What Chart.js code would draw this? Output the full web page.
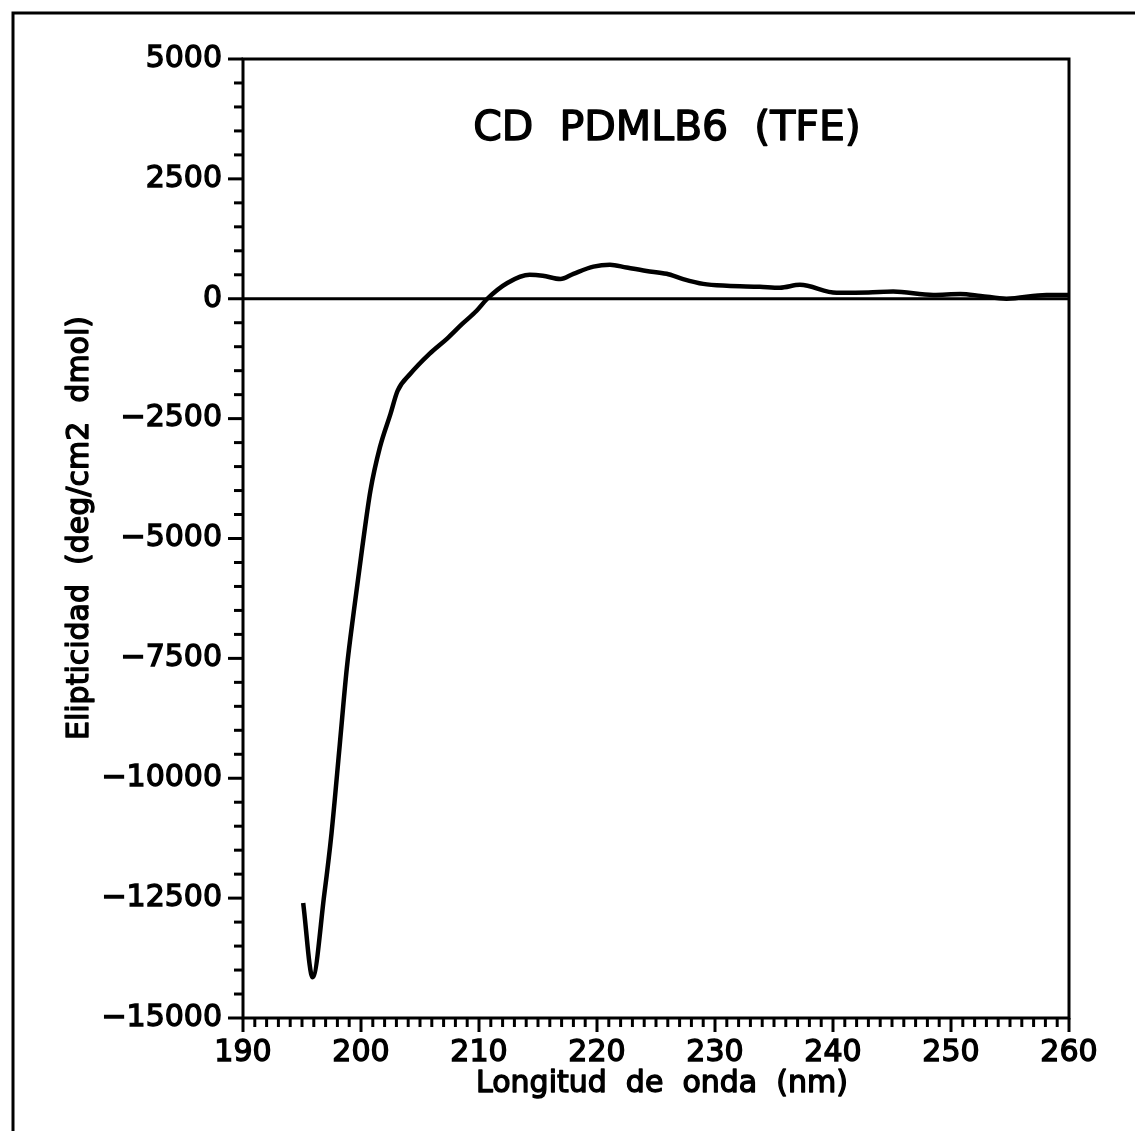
<!DOCTYPE html>
<html>
<head>
<meta charset="utf-8">
<script src="https://cdn.jsdelivr.net/npm/chart.js@4.4.0/dist/chart.umd.min.js"></script>
<style>
  html, body { margin: 0; padding: 0; background: #fff; }
  canvas { display: block; }
</style>
</head>
<body>
<canvas id="c" width="1135" height="1131"></canvas>
<script>
// ---- data ----
const wavelength = [195.1, 195.9, 196.9, 197.5, 198.2, 198.8, 199.4, 200.1, 200.8, 201.6, 202.5, 203.1, 204.2, 205.8, 207.3, 208.6, 209.8, 210.7, 212.4, 214.3, 215.4, 216.9, 218.0, 219.7, 221.1, 222.5, 224.2, 225.9, 227.3, 229.0, 231.0, 233.8, 235.5, 237.2, 240.3, 243.0, 245.1, 248.5, 250.8, 252.5, 254.7, 258.1, 260.0];
const ellipticity = [-12600, -14150, -12400, -11150, -9300, -7700, -6500, -5200, -4000, -3100, -2400, -1920, -1560, -1150, -830, -520, -250, 0, 330, 500, 480, 410, 520, 670, 710, 650, 580, 520, 410, 310, 270, 250, 230, 290, 125, 130, 150, 80, 100, 60, 0, 80, 80];
const zeroLineX = [190, 260];
const zeroLineY = [0, 0];
const xMajorTicks = [190, 200, 210, 220, 230, 240, 250, 260];
const yMajorTicks = [5000, 2500, 0, -2500, -5000, -7500, -10000, -12500, -15000];
const xMinorStep = 1;
const yMinorStep = 500;
const chartTitle = 'CD  PDMLB6  (TFE)';
const xTitle = 'Longitud  de  onda  (nm)';
const yTitle = 'Elipticidad  (deg/cm2  dmol)';

const FONT = '"DejaVu Sans", sans-serif';

function boldText(ctx, text, x, y) {
  ctx.fillText(text, x, y);
  ctx.strokeText(text, x, y);
}

const decorPlugin = {
  id: 'decor',
  beforeDraw(chart) {
    const ctx = chart.ctx;
    ctx.save();
    ctx.fillStyle = '#fff';
    ctx.fillRect(0, 0, chart.width, chart.height);
    // outer frame (top and left)
    ctx.strokeStyle = '#000';
    ctx.lineWidth = 3;
    ctx.beginPath();
    ctx.moveTo(13, chart.height);
    ctx.lineTo(13, 13);
    ctx.lineTo(chart.width, 13);
    ctx.stroke();
    ctx.restore();
  },
  afterDraw(chart) {
    const ctx = chart.ctx;
    const a = chart.chartArea;
    const xs = chart.scales.x, ys = chart.scales.y;
    ctx.save();
    ctx.strokeStyle = '#000';
    ctx.fillStyle = '#000';
    // plot box
    ctx.lineWidth = 3;
    ctx.strokeRect(a.left, a.top, a.right - a.left, a.bottom - a.top);
    // x ticks
    for (let v = xs.min; v <= xs.max + 1e-9; v += xMinorStep) {
      const px = xs.getPixelForValue(v);
      const major = xMajorTicks.includes(Math.round(v));
      ctx.beginPath();
      ctx.moveTo(px, a.bottom);
      ctx.lineTo(px, a.bottom + (major ? 14 : 9));
      ctx.stroke();
    }
    // y ticks
    for (let v = ys.min; v <= ys.max + 1e-9; v += yMinorStep) {
      const py = ys.getPixelForValue(v);
      const major = yMajorTicks.includes(Math.round(v));
      ctx.beginPath();
      ctx.moveTo(a.left, py);
      ctx.lineTo(a.left - (major ? 15 : 9), py);
      ctx.stroke();
    }
    ctx.lineWidth = 1.4;
    ctx.lineJoin = 'round';
    // chart title inside plot
    ctx.font = '41px ' + FONT;
    ctx.textAlign = 'center';
    ctx.textBaseline = 'alphabetic';
    boldText(ctx, chartTitle, 667, 140);
    // x title
    ctx.font = '30px ' + FONT;
    boldText(ctx, xTitle, 662, 1092);
    // y title
    ctx.translate(88, 528);
    ctx.rotate(-Math.PI / 2);
    boldText(ctx, yTitle, 0, 0);
    ctx.restore();
  }
};

new Chart(document.getElementById('c'), {
  type: 'line',
  data: {
    datasets: [
      {
        data: wavelength.map((x, i) => ({ x, y: ellipticity[i] })),
        borderColor: '#000',
        borderWidth: 4.5,
        pointRadius: 0,
        fill: false,
        cubicInterpolationMode: 'monotone'
      },
      {
        data: zeroLineX.map((x, i) => ({ x, y: zeroLineY[i] })),
        borderColor: '#000',
        borderWidth: 3,
        pointRadius: 0,
        fill: false
      }
    ]
  },
  options: {
    responsive: false,
    animation: false,
    devicePixelRatio: 1,
    layout: { padding: { top: 59, right: 66, left: 0, bottom: 0 } },
    plugins: { legend: { display: false }, tooltip: { enabled: false }, title: { display: false } },
    scales: {
      x: {
        type: 'linear',
        min: 190, max: 260,
        afterFit(s) { s.height = 113; },
        afterBuildTicks(s) { s.ticks = xMajorTicks.map(v => ({ value: v })); },
        ticks: {
          font: { family: FONT, size: 30 }, color: '#000', padding: 17, maxRotation: 0,
          textStrokeColor: '#000', textStrokeWidth: 1.4
        },
        grid: { display: false, drawTicks: false },
        border: { display: false }
      },
      y: {
        type: 'linear',
        min: -15000, max: 5000,
        afterFit(s) { s.width = 243; },
        afterBuildTicks(s) { s.ticks = yMajorTicks.map(v => ({ value: v })); },
        ticks: {
          font: { family: FONT, size: 30 }, color: '#000', padding: 21,
          textStrokeColor: '#000', textStrokeWidth: 1.4,
          callback: v => (v < 0 ? '\u2212' + Math.abs(v) : String(v))
        },
        grid: { display: false, drawTicks: false },
        border: { display: false }
      }
    }
  },
  plugins: [decorPlugin]
});
</script>
</body>
</html>
